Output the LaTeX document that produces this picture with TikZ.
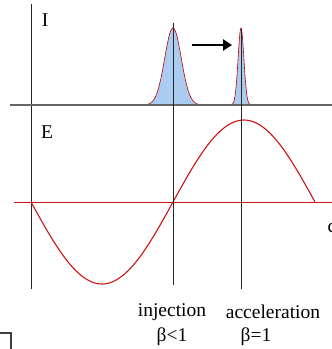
\documentclass[tikz,border=0pt]{standalone}
\usepackage{fontspec}
\setmainfont{Liberation Serif}
\usetikzlibrary{arrows.meta,positioning}
\definecolor{bunchblue}{RGB}{170,204,240}
\definecolor{wavered}{RGB}{205,20,20}

\begin{document}
\begin{tikzpicture}[
    x=1pt, y=-1pt,
    >=Triangle,
    every node/.style={font=\fontsize{19.5}{22}\selectfont, inner sep=0pt},
    ax/.style={draw=black!85, line width=0.8pt},
    wave/.style={draw=wavered, line width=1.1pt},
    bunch/.style={draw=red!75!black, line width=0.6pt, fill=bunchblue},
  ]
    \useasboundingbox (0,0) rectangle (332,349);

    % bunches before and after
    \filldraw[bunch] plot[domain=146:199, samples=80] ({\x}, {105-77*exp(-((\x-173)^2)/(2*8.3^2))}) -- cycle;
    \filldraw[bunch] plot[domain=230:252, samples=60] ({\x}, {105-77*exp(-((\x-241)^2)/(2*2.9^2))}) -- cycle;

    % axes
    \coordinate (top) at (31,4);
    \coordinate (bot) at (31,289);
    \coordinate (iL) at (10,105);
    \coordinate (iR) at (332,105);
    \coordinate (eL) at (14,202);
    \coordinate (eR) at (332,202);
    \draw[ax] (top) -- (bot);
    \draw[draw=black!60, line width=1.4pt] (iL) -- (iR);
    \draw[wave, line width=0.9pt] (eL) -- (eR);

    \node (I) at (45,20) {I};
    \node (E) at (47,132) {E};
    \node[anchor=west] (c) at (327.5,228) {c};

    % RF field
    \draw[wave] plot[domain=31:315, samples=120] ({\x}, {202+82*sin(((\x-31)/284)*360)});

    % injection and acceleration phases
    \coordinate (injT) at (173,23);
    \coordinate (injB) at (173,285);
    \coordinate (accT) at (241,29);
    \coordinate (accB) at (241,289);
    \draw[ax] (injT) -- (injB);
    \draw[ax] (accT) -- (accB);

    \coordinate (a1) at (192,45);
    \coordinate (a2) at (232,45);
    \draw[-{Triangle[length=9pt,width=11pt]}, line width=2.4pt] (a1) -- (a2);

    \node (inj) at (172,312) {injection};
    \node (acc) at (273,312) {acceleration};
    \node (b1) at (172,337) {β<1};
    \node (b2) at (256,337) {β=1};

    % corner mark
    \coordinate (k1) at (0,333);
    \coordinate (k2) at (11,333);
    \coordinate (k3) at (11,349);
    \draw[draw=black!75, line width=1.4pt] (k1) -- (k2) -- (k3);
  \end{tikzpicture}
\end{document}
